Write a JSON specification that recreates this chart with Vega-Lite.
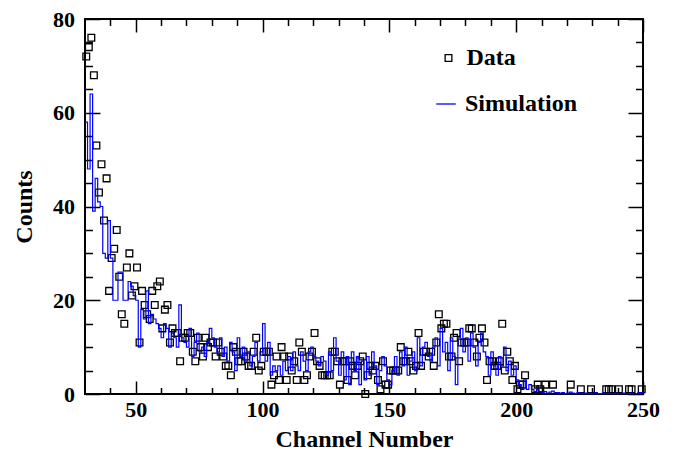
{
  "$schema": "https://vega.github.io/schema/vega-lite/v6.json",
  "width": 558,
  "height": 375,
  "autosize": "none",
  "padding": {"left": 85, "top": 19, "right": 32, "bottom": 57},
  "background": "white",
  "config": {
    "view": {"stroke": "black", "strokeWidth": 2},
    "font": "Liberation Serif"
  },
  "datasets": {
    "obs": [
      {"c":30.5,"n":72},{"c":31.5,"n":74},{"c":32.5,"n":76},{"c":33.5,"n":68},{"c":34.5,"n":53},{"c":35.5,"n":43},{"c":36.5,"n":49},{"c":37.5,"n":37},{"c":38.5,"n":46},{"c":39.5,"n":22},
      {"c":40.5,"n":29},{"c":41.5,"n":31},{"c":42.5,"n":35},{"c":43.5,"n":25},{"c":44.5,"n":17},{"c":45.5,"n":15},{"c":46.5,"n":27},{"c":47.5,"n":30},{"c":48.5,"n":21},{"c":49.5,"n":23},
      {"c":50.5,"n":27},{"c":51.5,"n":11},{"c":52.5,"n":22},{"c":53.5,"n":19},{"c":54.5,"n":17},{"c":55.5,"n":16},{"c":56.5,"n":22},{"c":57.5,"n":19},{"c":58.5,"n":23},{"c":59.5,"n":24},
      {"c":60.5,"n":14},{"c":61.5,"n":18},{"c":62.5,"n":19},{"c":63.5,"n":11},{"c":64.5,"n":14},{"c":65.5,"n":13},{"c":66.5,"n":13},{"c":67.5,"n":7},{"c":68.5,"n":12},{"c":69.5,"n":12},
      {"c":70.5,"n":13},{"c":71.5,"n":13},{"c":72.5,"n":9},{"c":73.5,"n":7},{"c":74.5,"n":12},{"c":75.5,"n":10},{"c":76.5,"n":8},{"c":77.5,"n":12},{"c":78.5,"n":10},{"c":79.5,"n":11},
      {"c":80.5,"n":11},{"c":81.5,"n":8},{"c":82.5,"n":11},{"c":83.5,"n":9},{"c":84.5,"n":8},{"c":85.5,"n":6},{"c":86.5,"n":6},{"c":87.5,"n":4},{"c":88.5,"n":10},{"c":89.5,"n":9},
      {"c":90.5,"n":7},{"c":91.5,"n":7},{"c":92.5,"n":9},{"c":93.5,"n":8},{"c":94.5,"n":6},{"c":95.5,"n":6},{"c":96.5,"n":9},{"c":97.5,"n":12},{"c":98.5,"n":5},{"c":99.5,"n":6},
      {"c":100.5,"n":9},{"c":101.5,"n":9},{"c":102.5,"n":9},{"c":103.5,"n":2},{"c":104.5,"n":4},{"c":105.5,"n":8},{"c":106.5,"n":3},{"c":107.5,"n":10},{"c":108.5,"n":8},{"c":109.5,"n":3},
      {"c":110.5,"n":8},{"c":111.5,"n":5},{"c":112.5,"n":7},{"c":113.5,"n":3},{"c":114.5,"n":11},{"c":115.5,"n":9},{"c":116.5,"n":3},{"c":117.5,"n":4},{"c":118.5,"n":8},{"c":119.5,"n":9},
      {"c":120.5,"n":13},{"c":121.5,"n":7},{"c":122.5,"n":6},{"c":123.5,"n":4},{"c":124.5,"n":4},{"c":125.5,"n":4},{"c":126.5,"n":4},{"c":127.5,"n":9},{"c":128.5,"n":9},{"c":129.5,"n":7},
      {"c":130.5,"n":2},{"c":131.5,"n":7},{"c":132.5,"n":7},{"c":133.5,"n":3},{"c":134.5,"n":7},{"c":135.5,"n":6},{"c":136.5,"n":4},{"c":137.5,"n":6},{"c":138.5,"n":7},{"c":139.5,"n":8},
      {"c":140.5,"n":0},{"c":141.5,"n":4},{"c":142.5,"n":6},{"c":143.5,"n":5},{"c":144.5,"n":6},{"c":145.5,"n":3},{"c":146.5,"n":1},{"c":147.5,"n":7},{"c":148.5,"n":2},{"c":149.5,"n":2},
      {"c":150.5,"n":5},{"c":151.5,"n":5},{"c":152.5,"n":5},{"c":153.5,"n":5},{"c":154.5,"n":10},{"c":155.5,"n":7},{"c":156.5,"n":7},{"c":157.5,"n":9},{"c":158.5,"n":7},{"c":159.5,"n":5},
      {"c":160.5,"n":6},{"c":161.5,"n":13},{"c":162.5,"n":6},{"c":163.5,"n":9},{"c":164.5,"n":9},{"c":165.5,"n":8},{"c":166.5,"n":9},{"c":167.5,"n":6},{"c":168.5,"n":11},{"c":169.5,"n":17},
      {"c":170.5,"n":14},{"c":171.5,"n":15},{"c":172.5,"n":15},{"c":173.5,"n":8},{"c":174.5,"n":8},{"c":175.5,"n":12},{"c":176.5,"n":13},{"c":177.5,"n":7},{"c":178.5,"n":11},{"c":179.5,"n":11},
      {"c":180.5,"n":11},{"c":181.5,"n":14},{"c":182.5,"n":14},{"c":183.5,"n":11},{"c":184.5,"n":8},{"c":185.5,"n":12},{"c":186.5,"n":14},{"c":187.5,"n":11},{"c":188.5,"n":3},{"c":189.5,"n":7},
      {"c":190.5,"n":7},{"c":191.5,"n":6},{"c":192.5,"n":6},{"c":193.5,"n":7},{"c":194.5,"n":15},{"c":195.5,"n":5},{"c":196.5,"n":9},{"c":197.5,"n":7},{"c":198.5,"n":3},{"c":199.5,"n":6},
      {"c":200.5,"n":1},{"c":201.5,"n":2},{"c":202.5,"n":2},{"c":203.5,"n":4},{"c":207.5,"n":1},{"c":208.5,"n":2},{"c":209.5,"n":1},{"c":211.5,"n":2},{"c":214.5,"n":2},{"c":221.5,"n":2},
      {"c":225.5,"n":1},{"c":229.5,"n":1},{"c":235.5,"n":1},{"c":236.5,"n":1},{"c":237.5,"n":1},{"c":240.5,"n":1},{"c":244.5,"n":1},{"c":245.5,"n":1},{"c":249.5,"n":1}
    ],
    "sim": [
      {"c":30,"s":58},{"c":31,"s":48},{"c":32,"s":64},{"c":33,"s":39},{"c":34,"s":46},{"c":35,"s":41},{"c":36,"s":40},{"c":37,"s":30},{"c":38,"s":29},{"c":39,"s":37},
      {"c":40,"s":29},{"c":41,"s":20},{"c":42,"s":20},{"c":43,"s":26},{"c":44,"s":26},{"c":45,"s":20},{"c":46,"s":20},{"c":47,"s":24},{"c":48,"s":23},{"c":49,"s":21},
      {"c":50,"s":20},{"c":51,"s":10},{"c":52,"s":18},{"c":53,"s":16},{"c":54,"s":22},{"c":55,"s":15},{"c":56,"s":17},{"c":57,"s":16},{"c":58,"s":15},{"c":59,"s":14},
      {"c":60,"s":12},{"c":61,"s":15},{"c":62,"s":14},{"c":63,"s":10},{"c":64,"s":13},{"c":65,"s":12},{"c":66,"s":10},{"c":67,"s":19},{"c":68,"s":12},{"c":69,"s":11},
      {"c":70,"s":10},{"c":71,"s":14},{"c":72,"s":8},{"c":73,"s":11},{"c":74,"s":13},{"c":75,"s":9},{"c":76,"s":10},{"c":77,"s":8},{"c":78,"s":11},{"c":79,"s":14},
      {"c":80,"s":12},{"c":81,"s":10},{"c":82,"s":9},{"c":83,"s":12},{"c":84,"s":8},{"c":85,"s":10},{"c":86,"s":7},{"c":87,"s":11},{"c":88,"s":9},{"c":89,"s":5},
      {"c":90,"s":12},{"c":91,"s":8},{"c":92,"s":10},{"c":93,"s":7},{"c":94,"s":9},{"c":95,"s":6},{"c":96,"s":8},{"c":97,"s":11},{"c":98,"s":7},{"c":99,"s":9},
      {"c":100,"s":15},{"c":101,"s":7},{"c":102,"s":11},{"c":103,"s":4},{"c":104,"s":6},{"c":105,"s":5},{"c":106,"s":6},{"c":107,"s":4},{"c":108,"s":7},{"c":109,"s":5},
      {"c":110,"s":8},{"c":111,"s":5},{"c":112,"s":9},{"c":113,"s":6},{"c":114,"s":5},{"c":115,"s":9},{"c":116,"s":7},{"c":117,"s":5},{"c":118,"s":9},{"c":119,"s":10},
      {"c":120,"s":8},{"c":121,"s":7},{"c":122,"s":6},{"c":123,"s":8},{"c":124,"s":7},{"c":125,"s":4},{"c":126,"s":9},{"c":127,"s":5},{"c":128,"s":12},{"c":129,"s":7},
      {"c":130,"s":4},{"c":131,"s":9},{"c":132,"s":3},{"c":133,"s":8},{"c":134,"s":2},{"c":135,"s":9},{"c":136,"s":5},{"c":137,"s":8},{"c":138,"s":2},{"c":139,"s":7},
      {"c":140,"s":3},{"c":141,"s":8},{"c":142,"s":4},{"c":143,"s":9},{"c":144,"s":6},{"c":145,"s":2},{"c":146,"s":5},{"c":147,"s":8},{"c":148,"s":6},{"c":149,"s":3},
      {"c":150,"s":2},{"c":151,"s":5},{"c":152,"s":8},{"c":153,"s":4},{"c":154,"s":9},{"c":155,"s":6},{"c":156,"s":10},{"c":157,"s":4},{"c":158,"s":7},{"c":159,"s":9},
      {"c":160,"s":5},{"c":161,"s":12},{"c":162,"s":6},{"c":163,"s":10},{"c":164,"s":11},{"c":165,"s":8},{"c":166,"s":7},{"c":167,"s":10},{"c":168,"s":12},{"c":169,"s":6},
      {"c":170,"s":14},{"c":171,"s":9},{"c":172,"s":11},{"c":173,"s":5},{"c":174,"s":12},{"c":175,"s":8},{"c":176,"s":2},{"c":177,"s":12},{"c":178,"s":14},{"c":179,"s":9},
      {"c":180,"s":12},{"c":181,"s":7},{"c":182,"s":13},{"c":183,"s":10},{"c":184,"s":6},{"c":185,"s":11},{"c":186,"s":13},{"c":187,"s":9},{"c":188,"s":8},{"c":189,"s":4},
      {"c":190,"s":9},{"c":191,"s":6},{"c":192,"s":4},{"c":193,"s":8},{"c":194,"s":6},{"c":195,"s":10},{"c":196,"s":5},{"c":197,"s":7},{"c":198,"s":4},{"c":199,"s":6},
      {"c":200,"s":3},{"c":201,"s":2},{"c":202,"s":1},{"c":203,"s":3},{"c":204,"s":1},{"c":205,"s":2},{"c":206,"s":1},{"c":207,"s":0.5},{"c":208,"s":1},{"c":209,"s":0.5},
      {"c":210,"s":0.3},{"c":211,"s":0.5},{"c":212,"s":0.2},{"c":213,"s":0.4},{"c":214,"s":0.6},{"c":215,"s":0.3},{"c":216,"s":0.3},{"c":217,"s":0.2},{"c":218,"s":0.3},{"c":219,"s":0.1},
      {"c":220,"s":0.2},{"c":221,"s":0.4},{"c":222,"s":0.2},{"c":223,"s":0.1},{"c":224,"s":0.3},{"c":225,"s":0.2},{"c":226,"s":0.1},{"c":227,"s":0.2},{"c":228,"s":0.1},{"c":229,"s":0.2},
      {"c":230,"s":0.1},{"c":231,"s":0.3},{"c":232,"s":0.1},{"c":233,"s":0.1},{"c":234,"s":0.2},{"c":235,"s":0.1},{"c":236,"s":0.2},{"c":237,"s":0.1},{"c":238,"s":0.1},{"c":239,"s":0.2},
      {"c":240,"s":0.1},{"c":241,"s":0.1},{"c":242,"s":0.2},{"c":243,"s":0.1},{"c":244,"s":0.1},{"c":245,"s":0.2},{"c":246,"s":0.1},{"c":247,"s":0.1},{"c":248,"s":0.3},{"c":249,"s":0.2},
      {"c":250,"s":0.2}
    ]
  },
  "layer": [
    {
      "data": {"name": "obs"},
      "mark": {"type": "point", "filled": false, "size": 45, "strokeWidth": 1.3, "opacity": 1, "color": "black"},
      "encoding": {
        "x": {
          "field": "c", "type": "quantitative",
          "scale": {"domain": [30, 250], "nice": false, "zero": false},
          "axis": {
            "orient": "bottom",
            "values": [40,50,60,70,80,90,100,110,120,130,140,150,160,170,180,190,200,210,220,230,240,250],
            "labelExpr": "datum.value % 50 === 0 ? datum.label : ''",
            "tickSize": {"condition": {"test": "datum.value % 50 === 0", "value": -13}, "value": -6.5},
            "tickColor": "black", "tickWidth": 1.5,
            "domain": false, "grid": false,
            "labelOverlap": false, "labelFlush": false,
            "labelFont": "Liberation Serif", "labelFontWeight": "bold", "labelFontSize": 22, "labelColor": "black",
            "labelPadding": 18,
            "title": "Channel Number",
            "titleFont": "Liberation Serif", "titleFontWeight": "bold", "titleFontSize": 24, "titleColor": "black",
            "titlePadding": 1
          }
        },
        "y": {
          "field": "n", "type": "quantitative",
          "scale": {"domain": [0, 80], "nice": false},
          "axis": {
            "orient": "left",
            "values": [0,5,10,15,20,25,30,35,40,45,50,55,60,65,70,75,80],
            "labelExpr": "datum.value % 20 === 0 ? datum.label : ''",
            "tickSize": {"condition": {"test": "datum.value % 20 === 0", "value": -15}, "value": -7.5},
            "tickColor": "black", "tickWidth": 1.5,
            "domain": false, "grid": false,
            "labelOverlap": false, "labelFlush": false,
            "labelFont": "Liberation Serif", "labelFontWeight": "bold", "labelFontSize": 22, "labelColor": "black",
            "labelPadding": 25.5,
            "title": "Counts",
            "titleFont": "Liberation Serif", "titleFontWeight": "bold", "titleFontSize": 24, "titleColor": "black",
            "titlePadding": 16
          }
        },
        "shape": {
          "datum": "Data",
          "scale": {"domain": ["Data"], "range": ["square"]},
          "legend": {
            "orient": "none", "legendX": 351.5, "legendY": 27,
            "title": null,
            "labelFont": "Liberation Serif", "labelFontWeight": "bold", "labelFontSize": 24, "labelColor": "black",
            "symbolSize": 45, "symbolStrokeWidth": 1.3, "symbolStrokeColor": "black", "symbolFillColor": "transparent",
            "labelOffset": 6
          }
        }
      }
    },
    {
      "data": {"name": "sim"},
      "mark": {"type": "line", "interpolate": "step-after", "strokeWidth": 1.2},
      "encoding": {
        "x": {
          "field": "c", "type": "quantitative",
          "axis": {
            "orient": "top",
            "values": [40,50,60,70,80,90,100,110,120,130,140,150,160,170,180,190,200,210,220,230,240,250],
            "labels": false, "title": null,
            "tickSize": {"condition": {"test": "datum.value % 50 === 0", "value": -13}, "value": -6.5},
            "tickColor": "black", "tickWidth": 1.5,
            "domain": false, "grid": false
          }
        },
        "y": {
          "field": "s", "type": "quantitative",
          "axis": {
            "orient": "right",
            "values": [0,5,10,15,20,25,30,35,40,45,50,55,60,65,70,75,80],
            "labels": false, "title": null,
            "tickSize": {"condition": {"test": "datum.value % 20 === 0", "value": -15}, "value": -7.5},
            "tickColor": "black", "tickWidth": 1.5,
            "domain": false, "grid": false
          }
        },
        "color": {
          "datum": "Simulation",
          "scale": {"domain": ["Simulation"], "range": ["#0000ff"]},
          "legend": {
            "orient": "none", "legendX": 349, "legendY": 73,
            "title": null,
            "labelFont": "Liberation Serif", "labelFontWeight": "bold", "labelFontSize": 24, "labelColor": "black",
            "symbolType": "stroke", "symbolSize": 380, "symbolStrokeWidth": 1.3,
            "labelOffset": 7
          }
        }
      }
    }
  ],
  "resolve": {"axis": {"x": "independent", "y": "independent"}}
}
